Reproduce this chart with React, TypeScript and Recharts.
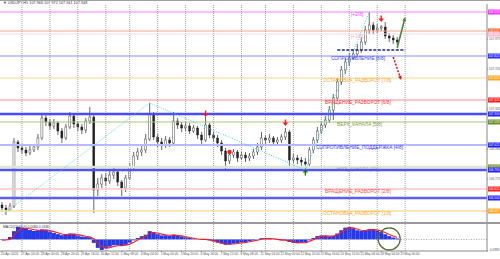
import React from 'react';
import { ComposedChart, Bar, Line, XAxis, YAxis, ReferenceLine, ReferenceDot } from 'recharts';

// USDJPY H1, one candle here stands for ~4 hourly bars
const firstOpen = 106.481;
const closes = [
  106.454, 106.436, 106.472, 107.048, 106.994, 106.976, 106.949, 106.976, 107.003, 107.084,
  107.264, 107.228, 107.192, 107.219, 107.147, 107.084, 107.183, 107.282, 107.21, 107.183,
  107.156, 107.237, 107.273, 106.616, 106.67, 106.724, 106.697, 106.751, 106.778, 106.688,
  106.634, 106.724, 106.823, 106.922, 106.958, 106.976, 107.075, 107.3, 107.093, 107.048,
  107.021, 107.066, 107.039, 107.237, 107.201, 107.174, 107.192, 107.147, 107.174, 107.111,
  107.066, 107.201, 107.111, 107.084, 107.039, 106.967, 106.877, 106.931, 106.958, 106.904,
  106.931, 106.904, 106.922, 106.958, 107.003, 107.084, 107.066, 107.084, 107.048, 107.066,
  107.093, 107.138, 106.886, 106.904, 106.886, 106.868, 106.85, 106.976, 107.066, 107.147,
  107.201, 107.246, 107.336, 107.444, 107.588, 107.696, 107.768, 107.804, 107.84, 107.876,
  107.948, 108.056, 108.101, 108.056, 108.074, 108.083, 108.002, 107.984, 107.966, 107.948,
];
const highs = [
  106.508, 106.481, 106.499, 107.084, 107.066, 107.021, 107.003, 107.012, 107.03, 107.12,
  107.309, 107.291, 107.255, 107.255, 107.237, 107.174, 107.21, 107.318, 107.3, 107.237,
  107.21, 107.264, 107.363, 107.3, 106.724, 106.76, 106.769, 106.796, 106.814, 106.796,
  106.706, 106.751, 106.859, 106.958, 106.994, 107.021, 107.12, 107.399, 107.318, 107.12,
  107.084, 107.102, 107.093, 107.318, 107.264, 107.228, 107.228, 107.219, 107.201, 107.192,
  107.138, 107.273, 107.219, 107.138, 107.111, 107.066, 106.994, 106.958, 106.985, 106.976,
  106.958, 106.958, 106.949, 106.985, 107.039, 107.138, 107.111, 107.12, 107.102, 107.093,
  107.12, 107.174, 107.156, 106.94, 106.931, 106.913, 106.904, 107.003, 107.093, 107.183,
  107.237, 107.282, 107.372, 107.48, 107.624, 107.732, 107.804, 107.849, 107.885, 107.93,
  107.993, 108.092, 108.218, 108.128, 108.11, 108.101, 108.128, 108.029, 108.011, 107.993,
];
const lows = [
  106.418, 106.391, 106.427, 106.454, 106.958, 106.94, 106.922, 106.931, 106.958, 106.976,
  107.066, 107.192, 107.156, 107.165, 107.111, 107.039, 107.066, 107.165, 107.174, 107.147,
  107.12, 107.129, 107.21, 106.409, 106.562, 106.634, 106.652, 106.67, 106.715, 106.652,
  106.562, 106.598, 106.706, 106.796, 106.886, 106.922, 106.949, 107.057, 107.066, 107.003,
  106.976, 106.994, 107.003, 107.021, 107.165, 107.138, 107.147, 107.12, 107.129, 107.075,
  107.03, 107.048, 107.084, 107.048, 107.003, 106.931, 106.796, 106.85, 106.904, 106.868,
  106.886, 106.868, 106.877, 106.895, 106.931, 106.976, 107.03, 107.039, 107.021, 107.021,
  107.039, 107.066, 106.814, 106.859, 106.85, 106.832, 106.796, 106.823, 106.949, 107.039,
  107.12, 107.174, 107.219, 107.246, 107.417, 107.561, 107.66, 107.732, 107.786, 107.813,
  107.849, 107.921, 108.02, 108.02, 108.029, 108.047, 107.975, 107.948, 107.93, 107.921,
];

const macdHist = [
  -0.004, -0.003, 0.02, 0.07, 0.108, 0.1, 0.088, 0.08, 0.072, 0.076,
  0.086, 0.082, 0.068, 0.055, 0.045, 0.036, 0.04, 0.05, 0.047, 0.034,
  0.024, 0.02, 0.018, -0.03, -0.072, -0.09, -0.075, -0.062, -0.05, -0.05,
  -0.056, -0.046, -0.028, -0.008, 0.012, 0.028, 0.04, 0.07, 0.062, 0.045,
  0.034, 0.035, 0.03, 0.04, 0.034, 0.026, 0.018, 0.012, 0.006, 0.0,
  -0.004, 0.002, -0.008, -0.018, -0.028, -0.036, -0.046, -0.042, -0.036, -0.032,
  -0.026, -0.022, -0.016, -0.01, -0.002, 0.01, 0.011, 0.006, 0.002, -0.004,
  -0.008, -0.006, -0.022, -0.03, -0.032, -0.028, -0.024, -0.008, 0.012, 0.028,
  0.034, 0.03, 0.024, 0.03, 0.05, 0.078, 0.1, 0.106, 0.094, 0.078,
  0.072, 0.078, 0.086, 0.086, 0.076, 0.062, 0.044, 0.028, 0.016, 0.008,
];
const macdSignal = [
  -0.006, -0.005, 0.0, 0.03, 0.07, 0.092, 0.095, 0.09, 0.082, 0.077,
  0.078, 0.08, 0.076, 0.066, 0.056, 0.046, 0.041, 0.043, 0.046, 0.042,
  0.034, 0.027, 0.022, 0.006, -0.03, -0.062, -0.074, -0.07, -0.06, -0.054,
  -0.053, -0.05, -0.04, -0.024, -0.006, 0.012, 0.026, 0.046, 0.056, 0.054,
  0.045, 0.039, 0.035, 0.036, 0.035, 0.03, 0.023, 0.016, 0.01, 0.004,
  0.0, 0.0, -0.004, -0.012, -0.021, -0.03, -0.039, -0.041, -0.039, -0.035,
  -0.03, -0.025, -0.02, -0.014, -0.007, 0.002, 0.007, 0.008, 0.005, 0.0,
  -0.004, -0.006, -0.014, -0.023, -0.028, -0.029, -0.027, -0.017, -0.002, 0.015,
  0.026, 0.03, 0.028, 0.028, 0.038, 0.06, 0.084, 0.098, 0.098, 0.088,
  0.078, 0.076, 0.081, 0.084, 0.081, 0.072, 0.058, 0.042, 0.028, 0.018,
];

// zigzag pivots [candle, price]
const zigzag: [number, number][] = [[0, 106.391], [37, 107.399], [76, 106.796], [92, 108.218]];
const fractalsDown: [number, number][] = [[51, 107.3], [71, 107.219], [95, 108.155]];
const fractalsUp: [number, number][] = [[76, 106.778]];
const redDots: [number, number][] = [[57, 106.958]];

// murrey math levels and extra S/R lines
const levelPrices = [108.218, 108.047, 108.02, 107.822, 107.624, 107.426, 107.3, 107.228, 107.021, 106.823, 106.796, 106.625, 106.544, 106.427];
const levelNames = ['[+2/8]', '', '[+1/8]', 'СОПРОТИВЛЕНИЕ [8/8]', 'ОСТАНОВКА_РАЗВОРОТ [7/8]', 'ВРАЩЕНИЕ_РАЗВОРОТ [6/8]', '', 'ВЕРХ_КАНАЛА [5/8]', 'СОПРОТИВЛЕНИЕ_ПОДДЕРЖКА [4/8]', 'НИЗ_КАНАЛА [3/8]', '', 'ВРАЩЕНИЕ_РАЗВОРОТ [2/8]', '', 'ОСТАНОВКА_РАЗВОРОТ [1/8]'];

// hand drawn forecast: base line and two arrows [candle, price]
const baseLine: [number, number][] = [[84, 107.876], [101, 107.876]];
const upArrow: [number, number][] = [[99, 107.894], [101, 108.173]];
const downArrow: [number, number][] = [[98, 107.813], [100, 107.606]];
const macdCircle: [number, number] = [97, 0.004];

// axis ticks that are not hidden under the level tags
const priceTicks = [108.155, 107.975, 107.885, 107.705, 107.525, 107.345, 107.165, 107.075, 106.985, 106.895, 106.715];
const macdTicks = [0.1308, 0, -0.0985];
const timeTickIdx = [0, 5, 10, 15, 20, 25, 30, 35, 40, 45, 50, 55, 60, 65, 70, 75, 80, 85, 90, 95, 100];
const timeLabels = ['24 Apr 2020', '27 Apr 04:00', '28 Apr 00:00', '28 Apr 20:00', '29 Apr 16:00', '30 Apr 12:00', '1 May 08:00', '4 May 04:00', '5 May 00:00', '5 May 20:00', '6 May 16:00', '7 May 12:00', '8 May 08:00', '11 May 04:00', '12 May 00:00', '12 May 20:00', '13 May 16:00', '14 May 12:00', '15 May 08:00', '18 May 04:00', '19 May 00:00'];
const gridIdx = [5, 12, 19, 26, 32, 39, 46, 53, 60, 66, 73, 80, 87, 94, 101];

const SLOTS = 122;

const levelStyle = [
  { line: '#ff80ff', w: 1, text: '#ff40ff', tag: '#ff30ff', tx: 351 },
  { line: '#f4a58a', w: 1.2, text: '#f08080', tag: '#ff5a1e', tx: 0 },
  { line: '#ffd6e4', w: 1, text: '#ffa8c0', tag: '#ffb6c8', tx: 351 },
  { line: '#8a8aff', w: 1, text: '#3d3dff', tag: '#2d2dff', tx: 331 },
  { line: '#ffd58a', w: 1.2, text: '#f5a623', tag: '#ffa31a', tx: 323 },
  { line: '#ff8a8a', w: 1.2, text: '#ff2a2a', tag: '#ff1a1a', tx: 325 },
  { line: '#4a4aff', w: 2.5, text: '#3030ff', tag: '#2020ff', tx: 0 },
  { line: '#a8c47a', w: 1.2, text: '#7c9c3c', tag: '#6b8e23', tx: 337 },
  { line: '#b8b8ff', w: 2, text: '#3030ff', tag: '#2020ff', tx: 316 },
  { line: '#dfe8cf', w: 2.5, text: '#9cc080', tag: '#6b8e23', tx: 337 },
  { line: '#5050ff', w: 2.5, text: '#3030ff', tag: '#2020ff', tx: 0 },
  { line: '#ffc4c4', w: 1.5, text: '#ff4a4a', tag: '#ff1a1a', tx: 325 },
  { line: '#5c5cff', w: 2.5, text: '#3030ff', tag: '#2020ff', tx: 0 },
  { line: '#ffdc9a', w: 1.5, text: '#f5a623', tag: '#ffa31a', tx: 323 },
];

const data = Array.from({ length: SLOTS }, (_, i) => {
  const row: any = { i };
  if (i < closes.length) {
    row.o = i === 0 ? firstOpen : closes[i - 1];
    row.h = highs[i];
    row.l = lows[i];
    row.c = closes[i];
    row.macd = macdHist[i];
    row.sig = macdSignal[i];
  }
  const z = zigzag.find(p => p[0] === i);
  if (z) row.zz = z[1];
  return row;
});

const FONT = 'Liberation Sans, Arial, sans-serif';

const Candle = (props: any) => {
  const { x, y, width, height, payload } = props;
  if (payload == null || payload.c == null) return null;
  const { o, h, l, c } = payload;
  const py = (v: number) => y + ((h - v) / (h - l || 1)) * height;
  const top = py(Math.max(o, c));
  const bot = py(Math.min(o, c));
  const cx = x + width / 2;
  const up = c >= o;
  return (
    <g>
      <line x1={cx} x2={cx} y1={y} y2={y + height} stroke="#222" strokeWidth={0.7} />
      <rect x={x} y={top} width={width} height={Math.max(bot - top, 0.8)} fill={up ? '#fff' : '#222'} stroke="#222" strokeWidth={0.4} />
    </g>
  );
};

const levelLabel = (k: number) => (props: any) => {
  const { x, y, width } = props.viewBox;
  const s = levelStyle[k];
  return (
    <g>
      {levelNames[k] ? (
        <text x={x + s.tx} y={y + 4} fontSize={4.8} fill={s.text} fontFamily={FONT}>{levelNames[k]}</text>
      ) : null}
      <rect x={x + width + 1} y={y - 2.5} width={13} height={5} fill={s.tag} />
      <text x={x + width + 1.5} y={y + 1.2} fontSize={3} fill="#fff" fontFamily={FONT}>{levelPrices[k].toFixed(3)}</text>
    </g>
  );
};

const arrowShape = (color: string, dash?: string) => (p: any) => {
  const { x1, y1, x2, y2 } = p;
  const a = Math.atan2(y2 - y1, x2 - x1);
  const s = 4.5;
  const ax = x2 - s * Math.cos(a - 0.45);
  const ay = y2 - s * Math.sin(a - 0.45);
  const bx = x2 - s * Math.cos(a + 0.45);
  const by = y2 - s * Math.sin(a + 0.45);
  return (
    <g>
      <line x1={x1} y1={y1} x2={x2 - 2 * Math.cos(a)} y2={y2 - 2 * Math.sin(a)} stroke={color} strokeWidth={1.6} strokeDasharray={dash} />
      <polygon points={`${x2},${y2} ${ax},${ay} ${bx},${by}`} fill={color} />
    </g>
  );
};

const DownMark = (p: any) => (
  <g>
    <line x1={p.cx} x2={p.cx} y1={p.cy - 3.5} y2={p.cy} stroke="#ff1a1a" strokeWidth={1.4} />
    <polygon points={`${p.cx - 2.8},${p.cy - 0.5} ${p.cx + 2.8},${p.cy - 0.5} ${p.cx},${p.cy + 3}`} fill="#ff1a1a" />
  </g>
);
const UpMark = (p: any) => (
  <g>
    <line x1={p.cx} x2={p.cx} y1={p.cy + 3.5} y2={p.cy} stroke="#1d7a1d" strokeWidth={1.4} />
    <polygon points={`${p.cx - 2.8},${p.cy + 0.5} ${p.cx + 2.8},${p.cy + 0.5} ${p.cx},${p.cy - 3}`} fill="#1d7a1d" />
  </g>
);

const PriceTick = (p: any) => (
  <text x={p.x} y={p.y + 1.2} fontSize={3.1} fill="#555" fontFamily={FONT} textAnchor="start">
    {Number(p.payload.value).toFixed(3)}
  </text>
);
const MacdTick = (p: any) => (
  <text x={p.x} y={p.y + 1.2} fontSize={3.1} fill="#555" fontFamily={FONT} textAnchor="start">
    {p.payload.value === 0 ? '0.00' : Number(p.payload.value).toFixed(4)}
  </text>
);
const TimeTick = (p: any) => {
  const k = timeTickIdx.indexOf(Number(p.payload.value));
  return (
    <text x={p.x - 1} y={p.y + 3} fontSize={3.2} fill="#555" fontFamily={FONT} textAnchor="start">
      {k >= 0 ? timeLabels[k] : ''}
    </text>
  );
};

const App: React.FC = () => {
  return (
    <div style={{ position: 'absolute', left: 0, top: 0, width: 500, height: 259, background: '#fff', overflow: 'hidden' }}>
      <ComposedChart width={500} height={222} data={data} margin={{ top: 4, right: 0, bottom: 0, left: 0 }} barCategoryGap={0}>
        <XAxis dataKey="i" type="category" hide />
        <YAxis
          orientation="right"
          width={13}
          domain={[106.328, 108.29]}
          allowDataOverflow
          ticks={priceTicks}
          tick={PriceTick}
          tickSize={1}
          tickMargin={1}
          axisLine={{ stroke: '#888' }}
          tickLine={{ stroke: '#888' }}
        />
        {gridIdx.map(g => (
          <ReferenceLine key={'g' + g} x={g} stroke="#8a8a8a" strokeWidth={0.8} strokeDasharray="1 1" />
        ))}
        {levelPrices.map((v, k) => (
          <ReferenceLine key={'lv' + k} y={v} stroke={levelStyle[k].line} strokeWidth={levelStyle[k].w} label={levelLabel(k)} />
        ))}
        <Line dataKey="zz" connectNulls dot={false} stroke="#3fd8e0" strokeWidth={1} strokeDasharray="1 1.5" isAnimationActive={false} />
        <Bar dataKey={(d: any) => (d.c == null ? null : [d.l, d.h])} barSize={2} shape={Candle} isAnimationActive={false} />
        {fractalsDown.map(([i, v]) => (
          <ReferenceDot key={'fd' + i} x={i} y={v} r={3} shape={DownMark} />
        ))}
        {fractalsUp.map(([i, v]) => (
          <ReferenceDot key={'fu' + i} x={i} y={v} r={3} shape={UpMark} />
        ))}
        {redDots.map(([i, v]) => (
          <ReferenceDot key={'rd' + i} x={i} y={v} r={2.2} fill="#ff1a1a" stroke="none" />
        ))}
        <ReferenceLine
          segment={baseLine.map(([x, y]) => ({ x, y }))}
          stroke="#1a237e"
          strokeWidth={1.6}
          strokeDasharray="3 1.5"
        />
        <ReferenceLine segment={upArrow.map(([x, y]) => ({ x, y }))} shape={arrowShape('#4a8a3a')} />
        <ReferenceLine segment={downArrow.map(([x, y]) => ({ x, y }))} shape={arrowShape('#e01818', '2 1.5')} />
      </ComposedChart>

      <div style={{ position: 'absolute', left: 0, top: 0, width: 500, height: 1, background: '#a0a0a0' }} />
      <div style={{ position: 'absolute', left: 3, top: 1, fontSize: 3.8, lineHeight: '5px', color: '#333', fontFamily: FONT, whiteSpace: 'nowrap' }}>
        ▼ USDJPY,H1 107.966 107.972 107.941 107.948
      </div>

      <div style={{ position: 'absolute', left: 0, top: 222, width: 500, height: 2, background: '#9a9a9a' }} />

      <div style={{ position: 'absolute', left: 0, top: 224 }}>
        <ComposedChart width={500} height={35} data={data} margin={{ top: 0, right: 0, bottom: 0, left: 0 }} barCategoryGap={0}>
          <XAxis
            dataKey="i"
            type="category"
            ticks={timeTickIdx}
            interval={0}
            height={8}
            tick={TimeTick}
            tickSize={1}
            tickMargin={0}
            axisLine={{ stroke: '#888' }}
            tickLine={{ stroke: '#888' }}
          />
          <YAxis
            orientation="right"
            width={13}
            domain={[-0.0985, 0.1308]}
            allowDataOverflow
            ticks={macdTicks}
            tick={MacdTick}
            tickSize={1}
            tickMargin={1}
            axisLine={{ stroke: '#888' }}
            tickLine={{ stroke: '#888' }}
          />
          {gridIdx.map(g => (
            <ReferenceLine key={'mg' + g} x={g} stroke="#8a8a8a" strokeWidth={0.8} strokeDasharray="1 1" />
          ))}
          <ReferenceLine y={0} stroke="#8a8a8a" strokeWidth={0.8} strokeDasharray="1 1.5" />
          <Bar dataKey="macd" fill="#2438ee" isAnimationActive={false} />
          <Line dataKey="sig" dot={false} stroke="#ff1a1a" strokeWidth={1.1} isAnimationActive={false} />
          <ReferenceDot x={macdCircle[0]} y={macdCircle[1]} r={11} fill="none" stroke="#4a6a2a" strokeWidth={1.2} />
        </ComposedChart>
        <div style={{ position: 'absolute', left: 3, top: 1, fontSize: 3.4, lineHeight: '4px', color: '#333', fontFamily: FONT, whiteSpace: 'nowrap' }}>
          MACD(12,26,9) 0.0080 0.0180
        </div>
      </div>
    </div>
  );
};

export default App;
